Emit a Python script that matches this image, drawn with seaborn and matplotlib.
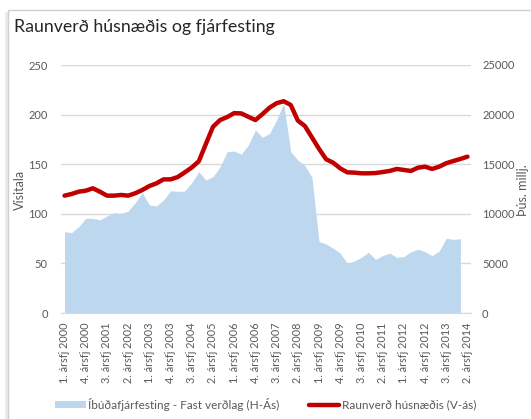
"""
Raunverð húsnæðis og íbúðafjárfesting, ársfjórðungslega 2000-2014.
"""

import numpy as np
import pandas as pd
import matplotlib
matplotlib.use('Agg')
import matplotlib.pyplot as plt
import seaborn as sns
from matplotlib.patches import Rectangle, Patch
from matplotlib.lines import Line2D

# --- data -------------------------------------------------------------
years = list(range(2000, 2015))
quarters = [f'{q}. ársfj {y}' for y in years for q in (1, 2, 3, 4)][:58]

# Raunverð húsnæðis, vísitala (V-ás)
real_price = [118.3, 120.0, 122.3, 123.3, 125.7, 122.3, 118.3, 118.3, 119.0, 118.3,
              120.7, 124.0, 128.0, 130.7, 134.7, 134.7, 137.0, 141.7, 146.7, 153.0,
              170.5, 187.7, 194.5, 197.5, 201.5, 201.2, 197.8, 194.5, 200.5, 207.0,
              211.5, 213.5, 209.7, 194.0, 188.5, 177.0, 165.5, 155.0, 151.5, 145.8,
              141.8, 141.5, 140.8, 140.8, 141.1, 142.1, 143.2, 145.2, 144.2, 143.2,
              146.5, 147.5, 145.2, 147.5, 151.0, 153.2, 155.3, 157.6]

# Íbúðafjárfesting á föstu verðlagi, þús. millj. (H-ás)
investment = [8200, 8100, 8700, 9540, 9540, 9380, 9780, 10100, 10050, 10280,
              11120, 12130, 10890, 10790, 11390, 12330, 12260, 12300, 13130, 14240,
              13400, 13740, 14740, 16260, 16330, 16000, 16930, 18450, 17710, 18110,
              19460, 21140, 16260, 15420, 14870, 13660, 7200, 6960, 6530, 6030,
              5010, 5240, 5610, 6120, 5410, 5780, 6030, 5610, 5680, 6180,
              6420, 6180, 5780, 6250, 7530, 7420, 7490]

left_ticks = [0, 50, 100, 150, 200, 250]
right_ticks = [0, 5000, 10000, 15000, 20000, 25000]

line_df = pd.DataFrame({'x': np.arange(len(real_price)), 'value': real_price})
area_df = pd.DataFrame({'x': np.arange(len(investment)), 'value': investment})

# --- style ------------------------------------------------------------
sns.set_style('white')
plt.rcParams['font.family'] = ['Lato', 'DejaVu Sans']
grey = '#595959'
red = '#C00000'
blue = '#BDD7EE'

fig = plt.figure(figsize=(5.31, 4.19), dpi=100)

# outer frame of the chart object
fig.patches.append(Rectangle((8 / 531, -0.1), 1.2, 1 - 10 / 419 + 0.1,
                             transform=fig.transFigure, facecolor='white',
                             edgecolor='#D0D0D0', linewidth=1.0, zorder=-5))
fig.patches.append(Rectangle((5 / 531, -0.1), 3 / 531, 1 - 12 / 419 + 0.1,
                             transform=fig.transFigure, facecolor='#EBEBEB',
                             edgecolor='none', zorder=-6))

ax2 = fig.add_axes([61 / 531, 1 - 313 / 419, 410 / 531, 248 / 419])
ax = ax2.twinx()
ax.set_zorder(ax2.get_zorder() + 1)
ax.patch.set_visible(False)

# area on the right axis (behind)
ax2.fill_between(area_df['x'], 0, area_df['value'], color=blue, linewidth=0, zorder=2)
ax2.set_ylim(0, 25000)
ax2.set_yticks(right_ticks)
ax2.yaxis.tick_right()
ax2.grid(axis='y', color='#D9D9D9', linewidth=1.0, zorder=0)
ax2.set_axisbelow(True)

# line on the left axis (front)
sns.lineplot(data=line_df, x='x', y='value', ax=ax, color=red, linewidth=3.2,
             solid_capstyle='round', solid_joinstyle='round')
ax.set_ylim(0, 250)
ax.set_yticks(left_ticks)
ax.yaxis.tick_left()

for a in (ax, ax2):
    a.set_xlim(-0.5, len(real_price) - 0.5)
    for s in a.spines.values():
        s.set_visible(False)
    a.tick_params(length=0, labelsize=8, labelcolor=grey)

ax2.spines['bottom'].set_visible(True)
ax2.spines['bottom'].set_color('#D9D9D9')

tick_pos = list(range(0, len(quarters), 3))
ax2.set_xticks(tick_pos)
ax2.set_xticklabels([quarters[i] for i in tick_pos], rotation=90, fontsize=7.8, color=grey)
ax2.tick_params(axis='x', pad=7, labelbottom=True)
ax.set_xlabel('')
ax2.set_xlabel('')

ax.tick_params(axis='y', pad=9.5)
ax2.tick_params(axis='y', pad=8)

ax.set_ylabel('Vísitala', fontsize=9, color=grey, rotation=90, va='center', ha='center')
ax.yaxis.set_label_coords((20 - 61) / 410, (313 - 190) / 248)
ax2.set_ylabel('Þús. millj.', fontsize=9, color=grey, rotation=90, va='center', ha='center')
ax2.yaxis.set_label_coords((523 - 61) / 410, (313 - 190) / 248)

fig.text(14 / 531, 1 - 27 / 419, 'Raunverð húsnæðis og fjárfesting',
         fontsize=12.8, color='#262626', va='center', ha='left')

handles = [Patch(facecolor=blue, edgecolor='none'),
           Line2D([0], [0], color=red, linewidth=3.2)]
labels = ['Íbúðafjárfesting - Fast verðlag (H-Ás)', 'Raunverð húsnæðis (V-ás)']
fig.legend(handles, labels, loc='center', bbox_to_anchor=(0.5, 1 - 404 / 419),
           ncol=2, frameon=False, fontsize=8.5, labelcolor=grey,
           handlelength=2.6, handleheight=0.5, handletextpad=0.2, columnspacing=2.5)

fig.savefig('out.png', dpi=100)
